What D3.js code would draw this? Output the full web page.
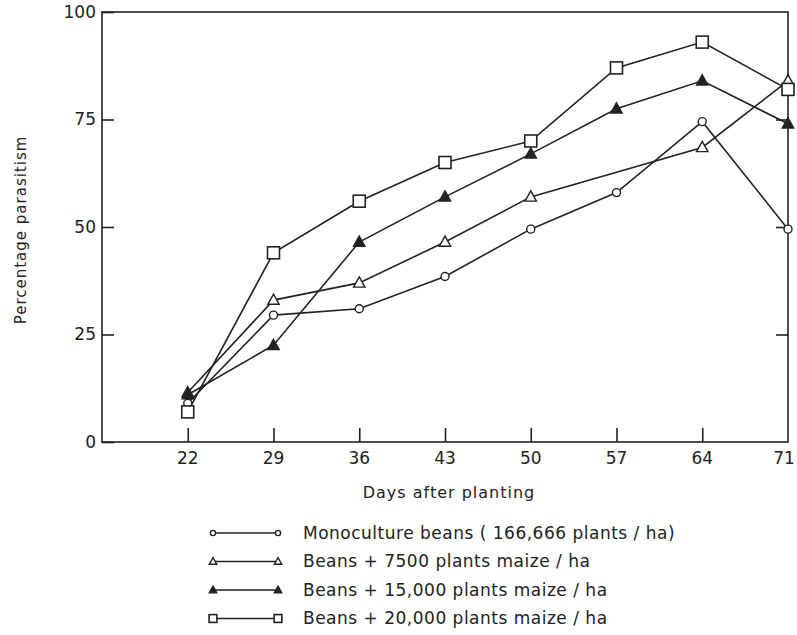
<!DOCTYPE html>
<html lang="en">
<head>
  <meta charset="UTF-8">
  <title>Percentage parasitism</title>
  <script src="https://cdn.jsdelivr.net/npm/d3@7/dist/d3.min.js"></script>
  <style>
    * { margin: 0; padding: 0; }
    body { background: #fff; }
    svg { display: block; font-family: "DejaVu Sans", sans-serif; }
  </style>
</head>
<body>
  <div id="chart"></div>
  <script>
  // data
  var days = [22, 29, 36, 43, 50, 57, 64, 71];
  var mono    = [9, 29.5, 31, 38.5, 49.5, 58, 74.5, 49.5];
  var maize7500  = [11.5, 33, 37, 46.5, 57, null, 68.5, 84];
  var maize15000 = [11, 22.5, 46.5, 57, 67, 77.5, 84, 74];
  var maize20000 = [7, 44, 56, 65, 70, 87, 93, 82];
  var yTicks = [0, 25, 50, 75, 100];
  var seriesNames = [
    "Monoculture beans ( 166,666 plants / ha)",
    "Beans + 7500 plants maize / ha",
    "Beans + 15,000 plants maize / ha",
    "Beans + 20,000 plants maize / ha"
  ];

  var width = 797, height = 635;
  var svg = d3.select("#chart").append("svg")
      .attr("width", width)
      .attr("height", height);

  var x = d3.scaleLinear().domain([15, 71]).range([102, 788]);
  var y = d3.scaleLinear().domain([0, 100]).range([442, 12]);

  var series = [
    { name: seriesNames[0], values: mono, shape: "circle" },
    { name: seriesNames[1], values: maize7500, shape: "triOpen" },
    { name: seriesNames[2], values: maize15000, shape: "triFilled" },
    { name: seriesNames[3], values: maize20000, shape: "square" }
  ];

  // frame
  svg.append("rect")
    .attr("x", x(15)).attr("y", y(100))
    .attr("width", x(71) - x(15)).attr("height", y(0) - y(100))
    .attr("fill", "none").attr("stroke", "#222").attr("stroke-width", 1.6);

  // left axis: inward ticks
  var yAxis = d3.axisRight(y).tickValues(yTicks).tickSize(12).tickFormat("");
  svg.append("g").attr("transform", "translate(" + x(15) + ",0)").call(yAxis)
    .call(function (g) { g.select(".domain").remove(); })
    .selectAll("line").attr("stroke", "#222").attr("stroke-width", 1.6);
  svg.append("g").selectAll("text")
    .data(yTicks).enter().append("text")
      .attr("x", x(15) - 6)
      .attr("y", function (d) { return y(d); })
      .attr("dy", "0.35em")
      .attr("text-anchor", "end")
      .style("font-size", "17px")
      .attr("fill", "#222")
      .text(function (d) { return d; });

  // right side inward ticks
  var yAxisR = d3.axisLeft(y).tickValues([25, 50, 75]).tickSize(12).tickFormat("");
  svg.append("g").attr("transform", "translate(" + x(71) + ",0)").call(yAxisR)
    .call(function (g) { g.select(".domain").remove(); })
    .selectAll("line").attr("stroke", "#222").attr("stroke-width", 1.6);

  // bottom axis: ticks pointing up
  var xAxis = d3.axisTop(x).tickValues(days.slice(0, 7)).tickSize(14).tickFormat("");
  svg.append("g").attr("transform", "translate(0," + y(0) + ")").call(xAxis)
    .call(function (g) { g.select(".domain").remove(); })
    .selectAll("line").attr("stroke", "#222").attr("stroke-width", 1.6);
  svg.append("g").selectAll("text")
    .data(days).enter().append("text")
      .attr("x", function (d) { return Math.min(x(d), 784); })
      .attr("y", y(0) + 22)
      .attr("text-anchor", "middle")
      .style("font-size", "17px")
      .attr("fill", "#222")
      .text(function (d) { return d; });

  // axis titles
  svg.append("text")
    .attr("x", 449).attr("y", 498)
    .attr("text-anchor", "middle")
    .style("font-size", "16px")
    .style("letter-spacing", "1px")
    .attr("fill", "#222")
    .text("Days after planting");
  svg.append("text")
    .attr("transform", "translate(26,230) rotate(-90)")
    .attr("text-anchor", "middle")
    .style("font-size", "15px")
    .style("letter-spacing", "1px")
    .attr("fill", "#222")
    .text("Percentage parasitism");

  // marker drawing
  function marker(sel, shape, s) {
    if (shape === "circle") {
      sel.append("circle").attr("r", 4 * s)
        .attr("fill", "#fff").attr("stroke", "#222").attr("stroke-width", 1.4);
    } else if (shape === "square") {
      sel.append("rect").attr("x", -6 * s).attr("y", -6 * s)
        .attr("width", 12 * s).attr("height", 12 * s)
        .attr("fill", "#fff").attr("stroke", "#222").attr("stroke-width", 1.6);
    } else {
      var r = 6 * s;
      sel.append("path")
        .attr("d", "M0," + (-r) + "L" + (r * 0.95) + "," + (r * 0.7) + "L" + (-r * 0.95) + "," + (r * 0.7) + "Z")
        .attr("fill", shape === "triFilled" ? "#222" : "#fff")
        .attr("stroke", "#222").attr("stroke-width", 1.4);
    }
  }

  var line = d3.line()
    .x(function (d) { return x(d.day); })
    .y(function (d) { return y(d.v); });

  series.forEach(function (s) {
    // a missing reading is skipped, the line runs straight past it
    var pts = days.map(function (d, i) { return { day: d, v: s.values[i] }; })
      .filter(function (p) { return p.v !== null; });
    svg.append("path")
      .datum(pts)
      .attr("d", line)
      .attr("fill", "none")
      .attr("stroke", "#222")
      .attr("stroke-width", 1.6);
    svg.append("g").selectAll("g")
      .data(pts).enter().append("g")
        .attr("transform", function (p) { return "translate(" + x(p.day) + "," + y(p.v) + ")"; })
        .each(function () { marker(d3.select(this), s.shape, 1); });
  });

  // legend
  var legend = svg.append("g").selectAll("g")
    .data(series).enter().append("g")
      .attr("transform", function (d, i) { return "translate(0," + (533 + i * 28.5) + ")"; });
  legend.append("line")
    .attr("x1", 213).attr("x2", 278)
    .attr("stroke", "#222").attr("stroke-width", 1.6);
  legend.each(function (d) {
    var g = d3.select(this);
    [213, 278].forEach(function (lx) {
      marker(g.append("g").attr("transform", "translate(" + lx + ",0)"), d.shape, 0.65);
    });
  });
  legend.append("text")
    .attr("x", 303).attr("dy", "0.35em")
    .style("font-size", "17px")
    .style("letter-spacing", "0.5px")
    .attr("fill", "#222")
    .text(function (d) { return d.name; });
  </script>
</body>
</html>
